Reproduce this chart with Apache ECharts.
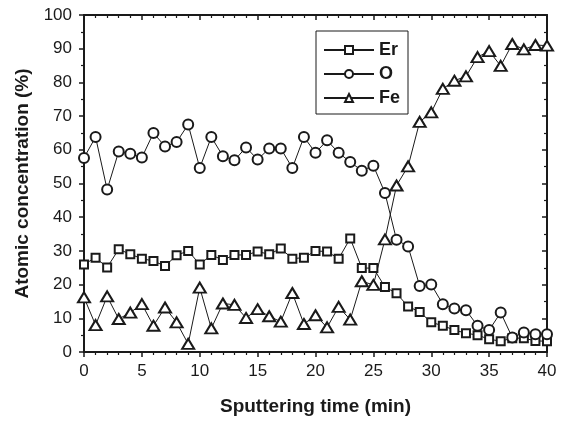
<!DOCTYPE html>
<html lang="en">
<head>
    <meta charset="UTF-8">
    <title>Atomic concentration</title>
    <script src="https://cdn.jsdelivr.net/npm/echarts@6.0.0/dist/echarts.min.js"></script>
    <style type="text/css">
        body { margin: 0px; padding: 0px; background: #fff; }
        #chart { width: 563px; height: 421px; }
    </style>
</head>
<body>
    <div id="chart"></div>
<script>
    // sputtering time, one point per minute
    const times = [];
    for (let t = 0; t <= 40; t++) times.push(t);

    const erValues = [26.0, 28.0, 25.1, 30.5, 29.0, 27.7, 27.0, 25.5, 28.7, 30.0,
        26.0, 28.8, 27.3, 28.8, 28.8, 29.8, 29.0, 30.7, 27.7, 28.0,
        30.0, 29.8, 27.7, 33.7, 24.9, 24.9, 19.3, 17.4, 13.5, 11.9,
        8.8, 7.8, 6.5, 5.6, 5.0, 3.8, 3.2, 4.1, 4.1, 3.3, 3.2];

    const oValues = [57.6, 63.8, 48.2, 59.5, 58.8, 57.7, 65.0, 61.0, 62.3, 67.5,
        54.6, 63.8, 58.1, 56.9, 60.7, 57.1, 60.4, 60.4, 54.6, 63.8,
        59.1, 62.8, 59.1, 56.4, 53.8, 55.3, 47.2, 33.3, 31.3, 19.6,
        20.0, 14.2, 12.9, 12.4, 7.8, 6.5, 11.7, 4.3, 5.8, 5.3, 5.3];

    const feValues = [16.2, 8.0, 16.5, 9.8, 11.7, 14.2, 7.8, 13.2, 8.8, 2.4,
        19.1, 7.0, 14.4, 14.0, 10.1, 12.7, 10.6, 9.0, 17.5, 8.3,
        10.9, 7.3, 13.4, 9.6, 21.0, 19.9, 33.4, 49.4, 55.1, 68.3,
        71.1, 78.1, 80.5, 81.8, 87.5, 89.3, 84.9, 91.4, 89.8, 91.1, 90.9];

    const xTicks = [0, 5, 10, 15, 20, 25, 30, 35, 40];
    const yTicks = [0, 10, 20, 30, 40, 50, 60, 70, 80, 90, 100];

    const pair = (vals) => times.map((t, i) => [t, vals[i]]);

    const fontFamily = '"Liberation Sans", Arial, sans-serif';
    const ink = '#1a1a1a';

    // main axes: ticks outside; mirror axes (top/right): ticks inside
    function axisBase(inside, minorSplit) {
        return {
            axisLine: { onZero: false, lineStyle: { color: ink, width: 2 } },
            axisTick: { inside: inside, length: 5, lineStyle: { color: ink, width: 1.5 } },
            minorTick: { show: true, splitNumber: minorSplit, length: 3, lineStyle: { color: ink, width: 1.2 } },
            splitLine: { show: false }
        };
    }

    const chart = echarts.init(document.getElementById('chart'));

    const option = {
        animation: false,
        grid: { left: 84, right: 16, top: 15, bottom: 68 },
        legend: {
            left: 316, top: 31,
            orient: 'vertical',
            itemWidth: 50, itemHeight: 10,
            itemGap: 6,
            padding: [10, 8, 7, 7],
            borderColor: ink, borderWidth: 1,
            textStyle: { fontFamily: fontFamily, fontSize: 18, fontWeight: 'bold', color: ink },
            data: ['Er', 'O', 'Fe']
        },
        xAxis: [
            Object.assign(axisBase(false, 5), {
                type: 'value', min: 0, max: 40, interval: 5,
                name: 'Sputtering time (min)',
                nameLocation: 'middle', nameGap: 45,
                nameTextStyle: { fontFamily: fontFamily, fontSize: 19, fontWeight: 'bold', color: ink },
                axisLabel: {
                    margin: 11, color: ink, fontFamily: fontFamily, fontSize: 17,
                    formatter: (v) => xTicks.includes(v) ? String(v) : ''
                }
            }),
            Object.assign(axisBase(true, 5), {
                type: 'value', min: 0, max: 40, interval: 5, position: 'top',
                axisLabel: { show: false }
            })
        ],
        yAxis: [
            Object.assign(axisBase(false, 2), {
                type: 'value', min: 0, max: 100, interval: 10,
                name: 'Atomic concentration (%)',
                nameLocation: 'middle', nameGap: 52,
                nameTextStyle: { fontFamily: fontFamily, fontSize: 19, fontWeight: 'bold', color: ink },
                axisLabel: {
                    margin: 12, color: ink, fontFamily: fontFamily, fontSize: 17,
                    formatter: (v) => yTicks.includes(v) ? String(v) : ''
                }
            }),
            Object.assign(axisBase(true, 2), {
                type: 'value', min: 0, max: 100, interval: 10, position: 'right',
                axisLabel: { show: false }
            })
        ],
        series: [
            {
                name: 'Er', type: 'line', data: pair(erValues),
                symbol: 'emptyRect', symbolSize: 8,
                lineStyle: { color: ink, width: 1 },
                itemStyle: { color: ink, borderColor: ink, borderWidth: 1 }
            },
            {
                name: 'O', type: 'line', data: pair(oValues),
                symbol: 'emptyCircle', symbolSize: 10,
                lineStyle: { color: ink, width: 1 },
                itemStyle: { color: ink, borderColor: ink, borderWidth: 1 }
            },
            {
                name: 'Fe', type: 'line', data: pair(feValues),
                symbol: 'emptyTriangle', symbolSize: [12, 10],
                lineStyle: { color: ink, width: 1 },
                itemStyle: { color: ink, borderColor: ink, borderWidth: 1 }
            }
        ]
    };

    chart.setOption(option);
</script>
</body>
</html>
